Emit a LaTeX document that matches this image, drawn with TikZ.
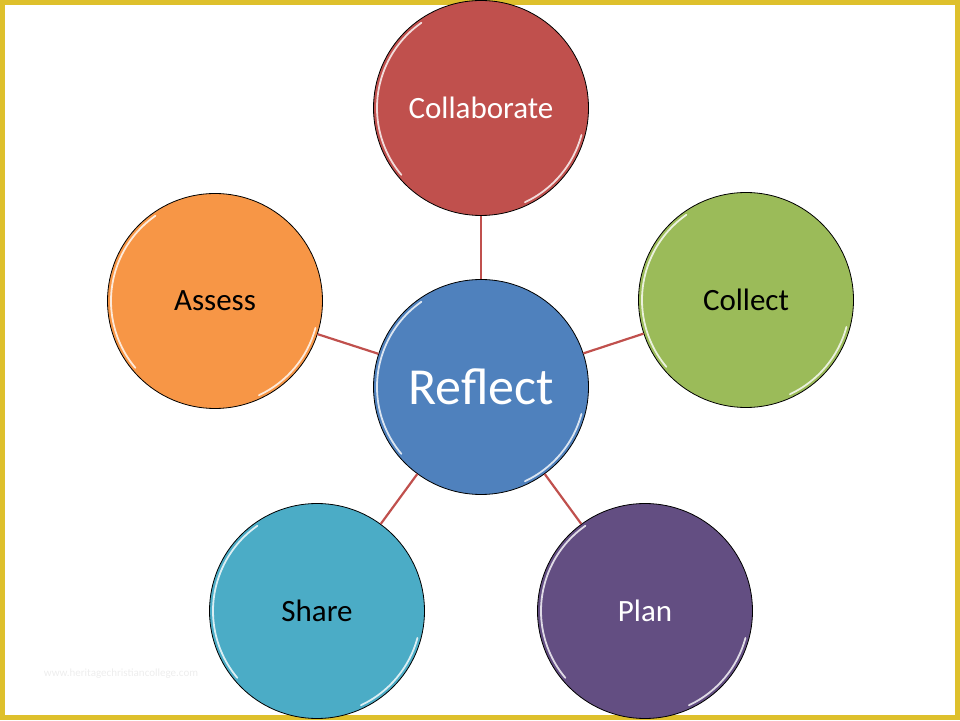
\documentclass[tikz,border=0pt]{standalone}
\usepackage{fontspec}
\setmainfont{Carlito}
\definecolor{rojo}{RGB}{192,80,77}
\definecolor{naranja}{RGB}{247,150,70}
\definecolor{verde}{RGB}{155,187,89}
\definecolor{azul}{RGB}{79,129,189}
\definecolor{aqua}{RGB}{75,172,198}
\definecolor{morado}{RGB}{99,78,130}
\definecolor{marco}{RGB}{222,192,44}
\begin{document}
\begin{tikzpicture}[x=1pt, y=1pt]
    % Marco y tamaño de la página
    \useasboundingbox (0,0) rectangle (960,720);
    \draw[marco, line width=5pt] (2.5,2.5) rectangle (957.5,717.5);

    % Definición de coordenadas
    \coordinate (Re) at (481, 333); % centro
    \coordinate (Co) at (481, 612);
    \coordinate (As) at (215, 419);
    \coordinate (Cl) at (746, 420);
    \coordinate (Sh) at (317, 109);
    \coordinate (Pl) at (645, 109);

    % --- ESTILOS ---
    \tikzset{
        bola/.style={circle, draw=black, line width=0.8pt, minimum size=215pt, inner sep=0pt, font=\fontsize{31}{36}\selectfont},
        brillo/.style={white, opacity=0.8, line width=1.8pt, line cap=round},
        enlace/.style={rojo, line width=2.2pt}
    }

    % --- NODOS (Círculos) ---
    \node[bola, fill=rojo, text=white] (collab) at (Co) {Collaborate};
    \node[bola, fill=naranja] (assess) at (As) {Assess};
    \node[bola, fill=verde] (collect) at (Cl) {Collect};
    \node[bola, fill=aqua] (share) at (Sh) {Share};
    \node[bola, fill=morado, text=white] (plan) at (Pl) {Plan};
    \node[bola, fill=azul, text=white, font=\fontsize{52}{60}\selectfont] (reflect) at (Re) {Reflect};

    % Brillo en el borde
    \foreach \n in {collab, assess, collect, share, plan, reflect} {
        \draw[brillo] ([shift={(125:104pt)}]\n.center) arc[start angle=125, end angle=220, radius=104pt];
        \draw[brillo] ([shift={(-15:104pt)}]\n.center) arc[start angle=-15, end angle=-65, radius=104pt];
    }

    % --- LÍNEAS ---
    \draw[enlace] (reflect) -- (collab);
    \draw[enlace] (reflect) -- (assess);
    \draw[enlace] (reflect) -- (collect);
    \draw[enlace] (reflect) -- (share);
    \draw[enlace] (reflect) -- (plan);

    % Marca de agua
    \node[text=black!7, font=\fontsize{11}{13}\selectfont] (marca) at (121, 46) {www.heritagechristiancollege.com};
\end{tikzpicture}
\end{document}
